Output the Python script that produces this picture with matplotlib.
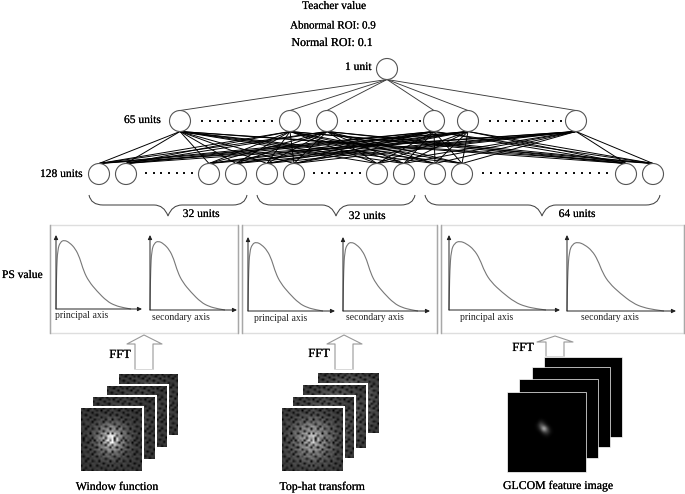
import numpy as np
import matplotlib
matplotlib.use("Agg")
import matplotlib.pyplot as plt
from matplotlib.path import Path
from matplotlib.patches import PathPatch, Circle, Rectangle
import matplotlib.patheffects as pe

plt.rcParams['font.family'] = ['Liberation Serif', 'DejaVu Serif']

# ---- network layout (canvas pixels) ----
output_x = [387]
hidden_x = [180, 290, 327, 434, 468, 576]
input_x = [99, 126, 209, 236, 267, 294, 377, 404, 435, 462, 626, 653]
layer_y = [69, 121, 174]
node_r = 10.5

hidden_dots = [(202, 272, 10), (348, 420, 11), (490, 561, 10)]
input_dots = [(146, 192, 7), (314, 360, 7), (483, 607, 16)]

labels = [("Teacher value", 334, 6, 'center', 8.3), ("Abnormal ROI: 0.9", 333, 26, 'center', 7.9),
          ("Normal ROI: 0.1", 332, 43, 'center', 8.6), ("1 unit", 345, 67, 'left', 8.3),
          ("65 units", 124, 120, 'left', 8.3), ("128 units", 40, 174, 'left', 8.3),
          ("32 units", 201, 214, 'center', 8.3), ("32 units", 367, 216, 'center', 8.3),
          ("64 units", 577, 214, 'center', 8.3), ("PS value", 2, 275, 'left', 8.3),
          ("FFT", 120, 355, 'center', 9), ("FFT", 319, 354, 'center', 9), ("FFT", 523, 348, 'center', 9),
          ("Window function", 117, 487, 'center', 8.5), ("Top-hat transform", 322, 487, 'center', 8.5),
          ("GLCOM feature image", 558, 486, 'center', 8.5)]

braces = [(89, 247, 168), (257, 415, 336), (425, 660, 542)]

frames = [(50, 238), (242, 437), (441, 684)]

# spectrum curve, x and height as fractions of the plot box
curve_x = [0, .004, .009, .022, .058, .111, .182, .258, .316, .369, .436, .547, .68, .791, .902, 1.0]
curve_h = [0, .30, .573, .864, .971, 1.0, .961, .874, .743, .549, .403, .257, .112, .049, .019, 0]

# origin x, origin y, right end of x axis, top of y axis, curve width, curve height
spectra = [(56, 309, 142, 235, 75, 69), (150, 310, 237, 235, 75, 69),
           (248, 311, 335, 237, 75, 69), (343, 311, 430, 237, 75, 69),
           (449, 310, 560, 235, 97, 69), (567, 311, 676, 235, 97, 69)]

axis_labels = [("principal axis", 82, 315), ("secondary axis", 181, 317),
               ("principal axis", 281, 318), ("secondary axis", 375, 317),
               ("principal axis", 487, 317), ("secondary axis", 610, 317)]

# block arrows: shaft left, shaft right, head left, head right, tip x, tip y, shoulder y, base y
block_arrows = [(135, 153, 127, 162, 144, 335, 344, 369),
                (335, 353, 327, 362, 344, 335, 344, 369),
                (546, 564, 537, 573, 555, 336, 342, 356)]

# image stacks, back to front: x0, x1, y0, y1
window_stack = [(119, 179, 373, 435), (107, 168, 385, 447), (93, 156, 396, 459), (81, 143, 407, 471)]
tophat_stack = [(318, 380, 372, 433), (303, 367, 384, 448), (293, 355, 396, 458), (282, 344, 407, 471)]
glcom_stack = [(544, 622, 357, 437), (532, 610, 367, 447), (519, 598, 379, 458), (507, 586, 392, 472)]

# hand-typed texture tile and glow map for the ROI thumbnails
speckle = np.array([
    [.8, .1, .9, .7, .2, .8, .0, .9, .6, .8, .1, .7, .9, .3],
    [.9, .7, .6, .0, .8, .9, .7, .3, .8, .0, .9, .8, .2, .8],
    [.2, .9, .8, .9, .7, .1, .9, .8, .9, .7, .6, .0, .9, .7],
    [.8, .6, .0, .7, .9, .8, .5, .0, .7, .9, .8, .9, .7, .1],
    [.7, .9, .8, .9, .1, .7, .9, .8, .9, .2, .7, .6, .9, .8],
    [.0, .8, .7, .3, .9, .8, .1, .7, .6, .9, .8, .1, .8, .9],
    [.9, .7, .9, .8, .7, .0, .9, .8, .9, .7, .0, .9, .7, .3],
    [.6, .2, .8, .9, .6, .9, .7, .1, .8, .6, .9, .8, .9, .8],
    [.9, .8, .7, .1, .8, .7, .9, .8, .7, .9, .7, .2, .6, .9],
    [.7, .9, .0, .9, .9, .2, .6, .9, .0, .8, .9, .8, .9, .0],
    [.8, .6, .8, .7, .6, .9, .8, .7, .9, .7, .1, .7, .8, .7],
    [.1, .9, .7, .9, .0, .8, .9, .1, .6, .9, .8, .9, .0, .9],
    [.9, .8, .2, .8, .9, .7, .7, .9, .8, .2, .7, .6, .9, .8],
    [.7, .0, .9, .6, .7, .1, .9, .6, .9, .8, .9, .1, .7, .6]])
glow = np.array([
    [.10, .10, .12, .15, .12, .10, .10],
    [.10, .20, .28, .35, .28, .20, .10],
    [.12, .28, .50, .62, .50, .28, .12],
    [.15, .35, .62, 1.0, .62, .35, .15],
    [.12, .28, .50, .62, .50, .28, .12],
    [.10, .20, .28, .35, .28, .20, .10],
    [.10, .10, .12, .15, .12, .10, .10]])
glcom_glow = np.array([
    [0, 0, 0, 0, 0, 0, 0],
    [0, 0, .15, .05, 0, 0, 0],
    [0, .08, .40, .25, .03, 0, 0],
    [0, .03, .30, 1.0, .35, .03, 0],
    [0, 0, .03, .30, .30, .08, 0],
    [0, 0, 0, .03, .08, 0, 0],
    [0, 0, 0, 0, 0, 0, 0]])
glcom_box = (533, 555, 417, 440)

fig = plt.figure(figsize=(6.85, 4.94), dpi=100)
ax = fig.add_axes([0, 0, 1, 1])
ax.set_xlim(0, 685)
ax.set_ylim(494, 0)
ax.axis('off')

edge = '#3a3a3a'

# connections
for x in hidden_x:
    ax.plot([output_x[0], x], [layer_y[0] + node_r, layer_y[1] - node_r], color=edge, lw=0.65, zorder=2)
    for xi in input_x:
        ax.plot([x, xi], [layer_y[1] + node_r, layer_y[2] - node_r], color='#000000', lw=0.7, zorder=2)

# nodes
for xs, y in zip([output_x, hidden_x, input_x], layer_y):
    for x in xs:
        ax.add_patch(Circle((x, y), node_r, fc='white', ec='#555555', lw=0.8, zorder=3))

# dotted rows
for rows, y in ((hidden_dots, 121), (input_dots, 173)):
    for a, b, n in rows:
        ax.plot(np.linspace(a, b, n), [y] * n, ls='none', marker='s', ms=1.7, color='#111111', mew=0)

# braces
for a, b, m in braces:
    t, mid, tip = 195, 205, 216
    v = [(a, t), (a + 2, mid), (a + 14, mid), (m - 14, mid), (m - 4, mid), (m, tip),
         (m + 4, mid), (m + 14, mid), (b - 14, mid), (b - 2, mid), (b, t)]
    c = [Path.MOVETO, Path.CURVE3, Path.CURVE3, Path.LINETO, Path.CURVE3, Path.CURVE3,
         Path.CURVE3, Path.CURVE3, Path.LINETO, Path.CURVE3, Path.CURVE3]
    ax.add_patch(PathPatch(Path(v, c), fc='none', ec='#444444', lw=0.75))

# frames
for a, b in frames:
    ax.add_patch(Rectangle((a, 225), b - a, 108, fc='white', ec='#dedede', lw=1.0, zorder=1))
    ax.plot([a, a], [225, 333], color='#a8a8a8', lw=1.0, zorder=1)
    ax.plot([b, b], [225, 333], color='#a8a8a8', lw=1.0, zorder=1)


def smooth_curve(px, py):
    """Quadratic spline through the midpoints of the read-off points."""
    v, c = [(px[0], py[0])], [Path.MOVETO]
    for i in range(1, len(px) - 1):
        v += [(px[i], py[i]), ((px[i] + px[i + 1]) / 2, (py[i] + py[i + 1]) / 2)]
        c += [Path.CURVE3, Path.CURVE3]
    v.append((px[-1], py[-1]))
    c.append(Path.LINETO)
    return Path(v, c)


# spectra
head = dict(arrowstyle='-|>,head_width=0.12,head_length=0.25', color='#222222', lw=0.7, shrinkA=0, shrinkB=0)
for x0, y0, xr, yt, w, h in spectra:
    ax.add_patch(PathPatch(smooth_curve(x0 + np.array(curve_x) * w, y0 - np.array(curve_h) * h),
                           fc='none', ec='#777777', lw=0.8, zorder=4))
    ax.annotate('', xy=(xr, y0), xytext=(x0, y0), zorder=4, arrowprops=head)
    ax.annotate('', xy=(x0, yt), xytext=(x0, y0), zorder=4, arrowprops=head)
for s, x, y in axis_labels:
    ax.text(x, y, s, ha='center', va='center', fontsize=7.0, color='#222222')

# block arrows
for sl, sr, hl, hr, tx, ty, sy, by in block_arrows:
    ax.plot([sl, sl, hl, tx, hr, sr, sr], [by, sy, sy, ty, sy, sy, by], color='#999999', lw=0.8, zorder=5)
    ax.plot([sl, sr], [by, by], color='#d8d8d8', lw=0.7, zorder=5)


def upsample(a, n):
    pos = np.linspace(0, a.shape[0] - 1, n)
    idx = np.arange(a.shape[0])
    rows = np.array([np.interp(pos, idx, r) for r in a])
    return np.array([np.interp(pos, idx, r) for r in rows.T]).T


def thumb(box, gamma, floor, gain, z):
    x0, x1, y0, y1 = box
    img = np.tile(speckle, (2, 2))
    big = upsample(glow, img.shape[0]) ** gamma
    # white backing so each sheet cleanly hides the one behind it
    ax.add_patch(Rectangle((x0 - 1, y0 - 1), x1 - x0 + 2, y1 - y0 + 2, fc='white', ec='none', zorder=z - 0.1))
    im = ax.imshow(img * (floor + gain * big), extent=(x0, x1, y1, y0), cmap='gray', vmin=0, vmax=1,
                   interpolation='bilinear', aspect='auto', zorder=z)
    im.set_clip_path(Rectangle((x0 + 0.5, y0 + 1), x1 - x0 - 1, y1 - y0 - 1.5, transform=ax.transData))


for i, box in enumerate(window_stack):
    thumb(box, 2.2, 0.27, 1.3, 6 + i)
for i, box in enumerate(tophat_stack):
    thumb(box, 1.2, 0.24, 0.85, 6 + i)

for i, (x0, x1, y0, y1) in enumerate(glcom_stack):
    ax.add_patch(Rectangle((x0, y0), x1 - x0, y1 - y0, fc='black', ec='white', lw=0.5, zorder=6 + i))
gx0, gx1, gy0, gy1 = glcom_box
ax.imshow(glcom_glow, extent=(gx0, gx1, gy1, gy0), cmap='gray', vmin=0, vmax=1,
          interpolation='bicubic', aspect='auto', zorder=11)

ax.set_xlim(0, 685)
ax.set_ylim(494, 0)

for s, x, y, ha, fs in labels:
    ax.text(x, y, s, ha=ha, va='center', fontsize=fs, color='#000000', zorder=12,
            path_effects=[pe.withStroke(linewidth=0.1, foreground='#000000')])

fig.savefig('out.png', dpi=100, facecolor='white')
